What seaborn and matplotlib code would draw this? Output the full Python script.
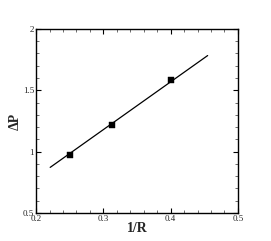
import numpy as np
import pandas as pd
import matplotlib
matplotlib.use("Agg")
import matplotlib.pyplot as plt
import seaborn as sns
from matplotlib.ticker import MultipleLocator

# Data
inv_r = [0.25, 0.3125, 0.40]          # 1/R at the square markers
delta_p = [0.969, 1.216, 1.580]       # pressure jump at the markers
fit_x = [0.221, 0.455]                # fitted line ends
fit_y = [0.872, 1.783]

sns.set_style("ticks")
plt.rcParams["font.family"] = ["Liberation Serif", "DejaVu Serif"]

fig = plt.figure(figsize=(2.71, 2.41), dpi=100)
ax = fig.add_axes([0.133, 0.116, 0.745, 0.764])

sns.lineplot(x=fit_x, y=fit_y, ax=ax, color="black", linewidth=0.9)
sns.scatterplot(x=inv_r, y=delta_p, ax=ax, marker="s", color="black",
                s=18, edgecolor="black", linewidth=0.3, zorder=3)

ax.set_xlim(0.2, 0.5)
ax.set_ylim(0.5, 2.0)
ax.xaxis.set_major_locator(MultipleLocator(0.1))
ax.xaxis.set_minor_locator(MultipleLocator(0.02))
ax.yaxis.set_major_locator(MultipleLocator(0.5))
ax.yaxis.set_minor_locator(MultipleLocator(0.1))
ax.set_xticklabels([f"{v:g}" for v in ax.get_xticks()])
ax.set_yticklabels([f"{v:g}" for v in ax.get_yticks()])

ax.tick_params(which="major", direction="in", length=3.5, width=0.8,
               top=True, right=True, labelsize=6.5, pad=1.5, color="black")
ax.tick_params(which="minor", direction="in", length=2, width=0.5,
               top=True, right=True, color="#333333")
for sp in ax.spines.values():
    sp.set_visible(True)
    sp.set_linewidth(1.0)
    sp.set_color("black")

ax.set_xlabel("1/R", fontsize=10, fontweight="bold", labelpad=-1)
ax.set_ylabel("ΔP", fontsize=10, fontweight="bold", labelpad=1)

fig.savefig("out.png", dpi=100)
